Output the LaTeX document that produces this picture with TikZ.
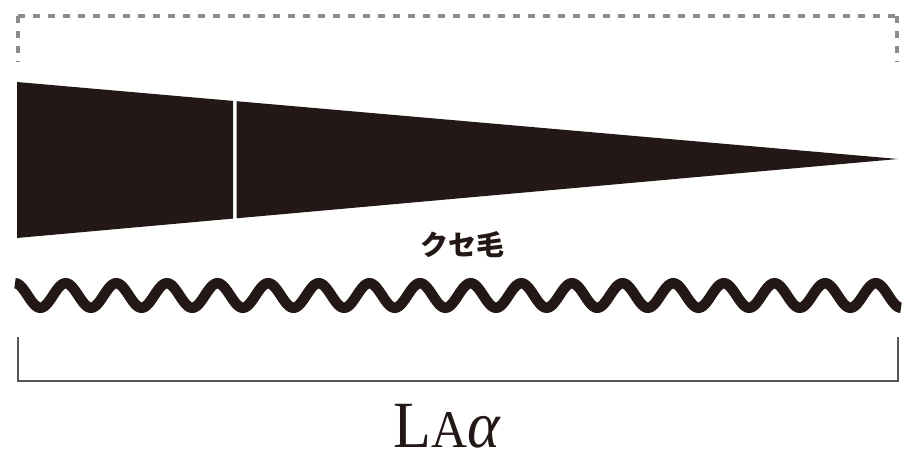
\documentclass[tikz,border=0pt]{standalone}
\usepackage{fontspec}
\setmainfont{Liberation Serif}
\newfontfamily\cjk{Noto Sans CJK JP}
\definecolor{ink}{HTML}{231815}
\definecolor{dotgrey}{HTML}{8C8C8C}
\definecolor{rulegrey}{HTML}{555555}
\begin{document}
\begin{tikzpicture}[x=1pt,y=-1pt,
  dotframe/.style={draw=dotgrey, line width=4pt, dash pattern=on 7pt off 8pt},
  wedgepart/.style={fill=ink, draw=none},
  wavy/.style={draw=ink, line width=10.5pt},
  bracketline/.style={draw=rulegrey, line width=2.5pt},
  jplabel/.style={text=ink, inner sep=0pt, font=\cjk\bfseries\fontsize{28}{28}\selectfont},
  lalabel/.style={text=ink, inner sep=0pt, anchor=base, xscale=0.94}]
\useasboundingbox (0,0) rectangle (904,457);
% dotted open frame
\draw[dotframe] (18,16) -- (897,16);
\draw[dotframe] (18,16) -- (18,62);
\draw[dotframe] (897,16) -- (897,62);
% wedge in two parts
\path[wedgepart] (17,82) -- (233,100.9) -- (233,218.6) -- (17,238) -- cycle;
\path[wedgepart] (236.5,101.2) -- (898,159) -- (236.5,218.3) -- cycle;
% label
\node[jplabel] (kuse) at (462,245) {クセ毛};
% wave
\draw[wavy] plot[domain=15:901, samples=600, smooth] (\x, {295.5-12.25*cos(7.1104*(\x-15))});
% bracket
\coordinate (bl) at (18,337);
\coordinate (blc) at (18,381);
\coordinate (brc) at (898,381);
\coordinate (br) at (898,337);
\draw[bracketline] (bl) -- (blc) -- (brc) -- (br);
\node[lalabel] (la) at (447,447) {\fontsize{66}{66}\selectfont L{\fontsize{53}{53}\selectfont A}\textit{α}};
\end{tikzpicture}
\end{document}
